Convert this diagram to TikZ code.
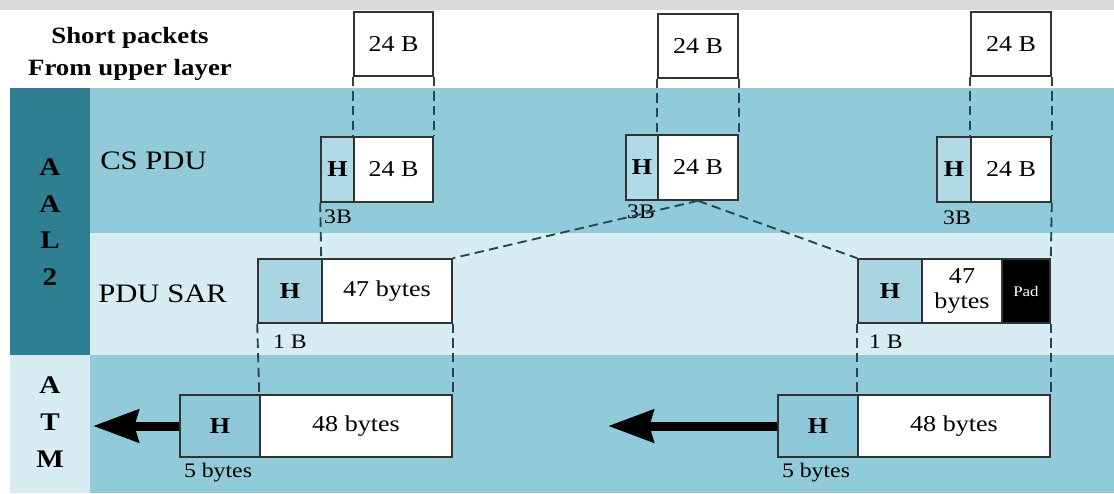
\documentclass[tikz,border=0pt]{standalone}
\usepackage{fontspec}
\setmainfont[FakeStretch=1.15]{Liberation Serif}
\usetikzlibrary{arrows.meta}

\definecolor{bandmid}{HTML}{91CBDA}
\definecolor{bandlight}{HTML}{D7EDF3}
\definecolor{coldark}{HTML}{2F7F92}
\definecolor{topgray}{HTML}{DADADA}
\definecolor{hcs}{HTML}{AFD9E5}
\definecolor{hsar}{HTML}{A9D5E2}
\definecolor{hatm}{HTML}{8EC8D8}
\definecolor{edge}{HTML}{333333}
\definecolor{dashcol}{HTML}{27454F}

% place a rectangular cell given its pixel extents x1 x2 y1 y2
\newcommand\cellbox[7]{\node[#1, minimum width={(#4-#3)*0.75pt}, minimum height={(#6-#5)*0.75pt}] (#2) at ({(#3+#4)/2},{(#5+#6)/2}) {#7};}

\tikzset{
  cell/.style={draw=edge, line width=1.2pt, inner sep=0pt, text=black,
    font=\fontsize{17pt}{19pt}\selectfont, align=center},
  datacell/.style={cell, fill=white},
  hdrcs/.style={cell, fill=hcs, font=\bfseries\fontsize{17pt}{19pt}\selectfont},
  hdrsar/.style={cell, fill=hsar, font=\bfseries\fontsize{17pt}{19pt}\selectfont},
  hdratm/.style={cell, fill=hatm, font=\bfseries\fontsize{17pt}{19pt}\selectfont},
  padcell/.style={cell, fill=black, text=white, font=\fontsize{11pt}{13pt}\selectfont},
  rowlabel/.style={anchor=west, inner sep=0pt, font=\fontsize{20pt}{24pt}\selectfont},
  sizelabel/.style={inner sep=0pt, font=\fontsize{15.5pt}{18pt}\selectfont},
  layerlabel/.style={inner sep=0pt, align=center, font=\bfseries\fontsize{19pt}{27.5pt}\selectfont},
  map/.style={draw=dashcol, line width=1.4pt, dash pattern=on 7pt off 4pt},
  sendarrow/.style={draw=black, line width=6.75pt,
    -{Stealth[length=34pt, width=24pt, inset=3pt]}},
}

\begin{document}
\begin{tikzpicture}[x=0.75pt, y=-0.75pt]
  \useasboundingbox (0,0) rectangle (1114,493);

  % background bands
  \fill[white] (0,0) rectangle (1114,493);
  \fill[topgray] (0,0) rectangle (1114,10);
  \fill[bandmid] (90,88) rectangle (1114,233);
  \fill[bandlight] (90,233) rectangle (1114,355);
  \fill[bandmid] (90,355) rectangle (1114,493);
  \fill[coldark] (10,88) rectangle (90,355);
  \fill[bandlight] (10,355) rectangle (90,493);

  % layer and row labels
  \node[layerlabel] (aal) at (50,222) {A\\A\\L\\2};
  \node[layerlabel] (atm) at (50,422) {A\\T\\M};
  \node[inner sep=0pt, align=center, font=\bfseries\fontsize{17.5pt}{24pt}\selectfont]
    (upper) at (130,54) {Short packets\\From upper layer};
  \node[rowlabel] (cslab) at (100,161) {CS PDU};
  \node[rowlabel] (sarlab) at (98,294) {PDU SAR};

  % short packets from the upper layer
  \cellbox{datacell}{t1}{354}{433}{12}{76}{24 B}
  \cellbox{datacell}{t2}{658}{738}{14}{78}{24 B}
  \cellbox{datacell}{t3}{971}{1051}{12}{76}{24 B}

  % CS PDUs
  \cellbox{hdrcs}{c1h}{321}{354}{137}{202}{H}
  \cellbox{datacell}{c1d}{354}{433}{137}{202}{24 B}
  \cellbox{hdrcs}{c2h}{626}{658}{135}{200}{H}
  \cellbox{datacell}{c2d}{658}{738}{135}{200}{24 B}
  \cellbox{hdrcs}{c3h}{937}{971}{137}{202}{H}
  \cellbox{datacell}{c3d}{971}{1051}{137}{202}{24 B}

  % SAR PDUs
  \cellbox{hdrsar}{s1h}{258}{322}{259}{323}{H}
  \cellbox{datacell}{s1d}{322}{452}{259}{323}{47 bytes}
  \cellbox{hdrsar}{s2h}{858}{922}{259}{323}{H}
  \cellbox{datacell}{s2d}{922}{1002}{259}{323}{47\\bytes}
  \cellbox{padcell}{s2p}{1002}{1050}{259}{323}{Pad}

  % ATM cells
  \cellbox{hdratm}{a1h}{180}{260}{395}{457}{H}
  \cellbox{datacell}{a1d}{260}{452}{395}{457}{48 bytes}
  \cellbox{hdratm}{a2h}{778}{858}{395}{457}{H}
  \cellbox{datacell}{a2d}{858}{1050}{395}{457}{48 bytes}

  % size annotations
  \node[sizelabel] (n3b1) at (338,217) {3B};
  \node[sizelabel] (n3b2) at (641,212) {3B};
  \node[sizelabel] (n3b3) at (957,218) {3B};
  \node[sizelabel] (n1b1) at (290,342) {1 B};
  \node[sizelabel] (n1b2) at (886,342) {1 B};
  \node[sizelabel] (n5b1) at (218,473) {5 bytes};
  \node[sizelabel] (n5b2) at (816,473) {5 bytes};

  % mapping lines between layers
  \draw[map] (t1.south west) -- (c1d.north west);
  \draw[map] (t1.south east) -- (c1d.north east);
  \draw[map] (t2.south west) -- (c2d.north west);
  \draw[map] (t2.south east) -- (c2d.north east);
  \draw[map] (t3.south west) -- (c3d.north west);
  \draw[map] (t3.south east) -- (c3d.north east);

  \draw[map] (c1h.south west) -- (s1d.north west);
  \draw[map] (c2d.south) -- (s1d.north east);
  \draw[map] (c2d.south) -- (s2h.north west);
  \draw[map] (c3d.south east) -- (s2p.north east);

  \draw[map] (s1h.south west) -- (a1d.north west);
  \draw[map] (s1d.south east) -- (a1d.north east);
  \draw[map] (s2h.south west) -- (a2d.north west);
  \draw[map] (s2p.south east) -- (a2d.north east);

  % cells handed on to the ATM layer
  \coordinate (tip1) at (93,426);
  \coordinate (tip2) at (608,426);
  \draw[sendarrow] (a1h.west) -- (tip1);
  \draw[sendarrow] (a2h.west) -- (tip2);
\end{tikzpicture}
\end{document}
